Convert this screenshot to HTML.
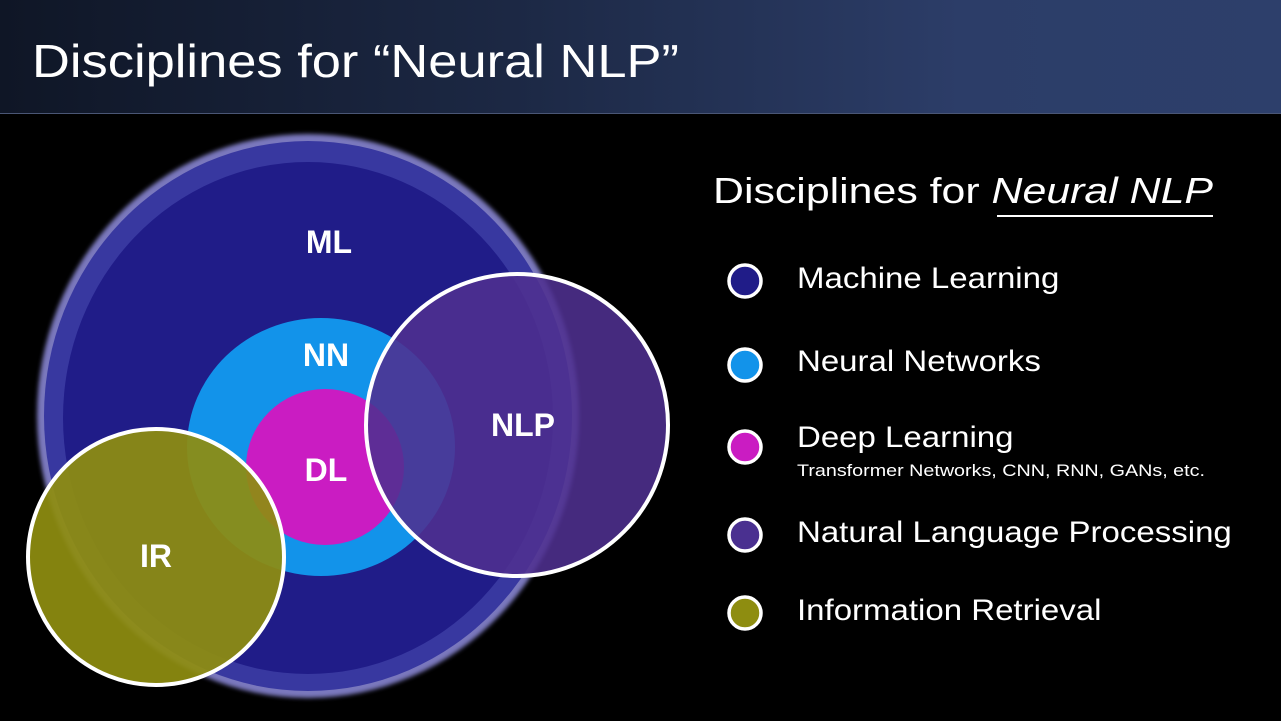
<!DOCTYPE html>
<html><head><meta charset="utf-8"><style>
body{margin:0;width:1281px;height:721px;background:#000;overflow:hidden;font-family:"Liberation Sans",sans-serif;position:relative}
.hdr{position:absolute;left:0;top:0;width:1281px;height:113px;background:linear-gradient(90deg,#0f1626 0%,#1c2844 40%,#2c3d68 75%,#2d3f6b 100%);border-bottom:1px solid #4a5675}
.hdr div{position:absolute;left:32px;top:33px;color:#fff;font-size:46px;line-height:56px;white-space:nowrap;transform:scaleX(1.14);transform-origin:left}
.t{position:absolute;color:#fff;white-space:nowrap;transform-origin:left}
</style></head><body>
<div class="hdr"><div>Disciplines for “Neural NLP”</div></div>
<svg width="1281" height="721" style="position:absolute;left:0;top:0">
<defs><filter id="b"><feGaussianBlur stdDeviation="2"/></filter></defs>
<ellipse cx="308" cy="416" rx="271" ry="282" fill="#7a78bd" filter="url(#b)"/>
<ellipse cx="308" cy="416" rx="264" ry="275" fill="#3838a0"/>
<ellipse cx="308" cy="418" rx="245" ry="256" fill="#201c88"/>
<ellipse cx="321" cy="447" rx="134" ry="129" fill="#1293ea"/>
<ellipse cx="325" cy="467" rx="79" ry="78" fill="#ca1cc2"/>
<circle cx="517" cy="425" r="151" fill="#4e3090" fill-opacity="0.88" stroke="#fff" stroke-width="4"/>
<circle cx="156" cy="557" r="128" fill="#8e8d10" fill-opacity="0.93" stroke="#fff" stroke-width="4"/>
<g fill="#fff" font-family="Liberation Sans,sans-serif" font-weight="bold" font-size="32" text-anchor="middle">
<text x="329" y="253">ML</text><text x="326" y="366">NN</text><text x="326" y="481">DL</text><text x="523" y="436">NLP</text><text x="156" y="567">IR</text></g>
<g stroke="#fff" stroke-width="3.5">
<circle cx="745" cy="281" r="16" fill="#201c88"/>
<circle cx="745" cy="365" r="16" fill="#1293ea"/>
<circle cx="745" cy="447" r="16" fill="#ca1cc2"/>
<circle cx="745" cy="535" r="16" fill="#4a3090"/>
<circle cx="745" cy="613" r="16" fill="#8e8d10"/></g>
<line x1="997" y1="216" x2="1213" y2="216" stroke="#fff" stroke-width="2"/>
</svg>
<div class="t" style="left:713px;top:170px;font-size:36px;transform:scaleX(1.19)">Disciplines for <i>Neural NLP</i></div>
<div class="t" style="left:797px;top:262px;font-size:30px;transform:scaleX(1.1)">Machine Learning</div>
<div class="t" style="left:797px;top:345px;font-size:30px;transform:scaleX(1.1)">Neural Networks</div>
<div class="t" style="left:797px;top:421px;font-size:30px;transform:scaleX(1.1)">Deep Learning</div>
<div class="t" style="left:797px;top:461px;font-size:17px;transform:scaleX(1.16)">Transformer Networks, CNN, RNN, GANs, etc.</div>
<div class="t" style="left:797px;top:516px;font-size:30px;transform:scaleX(1.1)">Natural Language Processing</div>
<div class="t" style="left:797px;top:594px;font-size:30px;transform:scaleX(1.1)">Information Retrieval</div>
</body></html>
